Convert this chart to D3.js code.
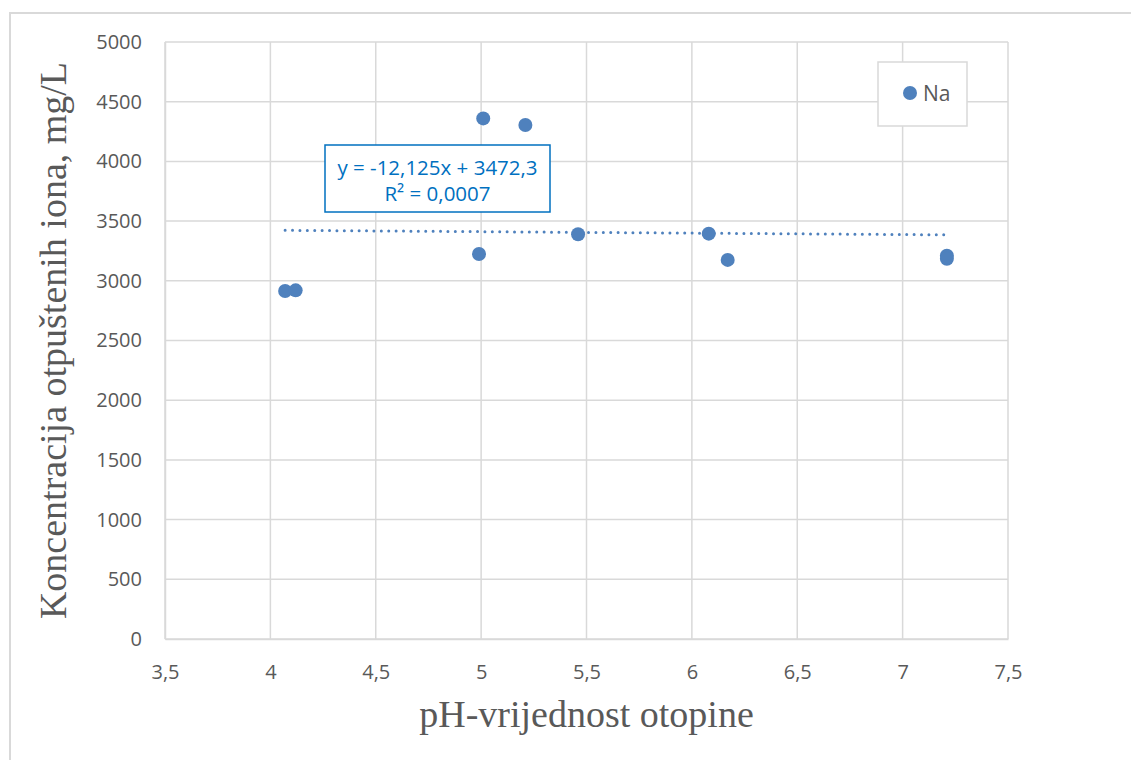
<!DOCTYPE html>
<html>
<head>
<meta charset="utf-8">
<script src="https://cdn.jsdelivr.net/npm/d3@7"></script>
<style>
    body { margin: 0; background: #fff; }
    text { fill: #595959; }
</style>
</head>
<body>
<div class="viz"></div>
<script>
// pH values and Na concentration
const ph = [4.07, 4.12, 5.01, 5.21, 4.99, 5.46, 6.08, 6.17, 7.21, 7.21];
const na = [2915, 2920, 4360, 4305, 3225, 3390, 3395, 3175, 3210, 3185];
const seriesName = "Na";
const trendSlope = -12.125,
    trendIntercept = 3472.3;
const trendLabel = ["y = -12,125x + 3472,3", "R² = 0,0007"];
const xTicks = [3.5, 4, 4.5, 5, 5.5, 6, 6.5, 7, 7.5];
const yTicks = [0, 500, 1000, 1500, 2000, 2500, 3000, 3500, 4000, 4500, 5000];

const W = 1131,
    H = 760;
var margin = { top: 42, right: 123, bottom: 121, left: 165 },
    width = W - margin.left - margin.right,
    height = H - margin.top - margin.bottom;

const blue = "#4f81bd";
const sans = "'Open Sans', 'Noto Sans', sans-serif";
const fmt = (d) => String(d).replace(".", ",");

var svg = d3
    .select(".viz")
    .append("svg")
    .attr("width", W)
    .attr("height", H);

// outer chart border
svg.append("rect")
    .attr("x", 10)
    .attr("y", 13)
    .attr("width", W + 20)
    .attr("height", H + 20)
    .attr("fill", "#fff")
    .attr("stroke", "#d9d9d9")
    .attr("stroke-width", 2);

var x = d3.scaleLinear().domain([3.5, 7.5]).range([0, width]);
var y = d3.scaleLinear().domain([0, 5000]).range([height, 0]);

var g = svg
    .append("g")
    .attr("transform", `translate(${margin.left},${margin.top})`);

// gridlines
g.append("g")
    .selectAll("line")
    .data(xTicks)
    .enter()
    .append("line")
    .attr("x1", (d) => x(d))
    .attr("x2", (d) => x(d))
    .attr("y1", 0)
    .attr("y2", height)
    .attr("stroke", "#d9d9d9")
    .attr("stroke-width", 1.5);

g.append("g")
    .selectAll("line")
    .data(yTicks)
    .enter()
    .append("line")
    .attr("x1", 0)
    .attr("x2", width)
    .attr("y1", (d) => y(d))
    .attr("y2", (d) => y(d))
    .attr("stroke", "#d9d9d9")
    .attr("stroke-width", 1.5);

// axes
var xAxis = g
    .append("g")
    .attr("transform", `translate(0,${height})`)
    .call(d3.axisBottom(x).tickValues(xTicks).tickSize(0).tickPadding(26).tickFormat(fmt));
var yAxis = g
    .append("g")
    .call(d3.axisLeft(y).tickValues(yTicks).tickSize(0).tickPadding(23).tickFormat(fmt));

[xAxis, yAxis].forEach((a) => {
    a.select(".domain").attr("stroke", "#d9d9d9").attr("stroke-width", 1.5);
    a.selectAll("text")
        .attr("fill", "#595959")
        .style("font-family", sans)
        .style("font-size", "20px");
});

// trendline
var xs = d3.extent(ph);
g.append("line")
    .attr("x1", x(xs[0]))
    .attr("x2", x(xs[1]))
    .attr("y1", y(trendSlope * xs[0] + trendIntercept))
    .attr("y2", y(trendSlope * xs[1] + trendIntercept))
    .attr("stroke", blue)
    .attr("stroke-width", 3)
    .attr("stroke-linecap", "round")
    .attr("stroke-dasharray", "0 7.4");

// points
g.append("g")
    .selectAll("circle")
    .data(ph.map((p, i) => [p, na[i]]))
    .enter()
    .append("circle")
    .attr("cx", (d) => x(d[0]))
    .attr("cy", (d) => y(d[1]))
    .attr("r", 7)
    .attr("fill", blue);

// trendline label
var lab = svg.append("g").attr("transform", "translate(325,145)");
lab.append("rect")
    .attr("width", 225)
    .attr("height", 67)
    .attr("fill", "#fff")
    .attr("stroke", "#0070c0")
    .attr("stroke-width", 1.5);
lab.selectAll("text")
    .data(trendLabel)
    .enter()
    .append("text")
    .attr("x", 112.5)
    .attr("y", (d, i) => 30 + i * 26)
    .attr("text-anchor", "middle")
    .style("fill", "#0070c0")
    .style("font-family", sans)
    .style("font-size", "20.5px")
    .text((d) => d);

// legend
var leg = svg.append("g").attr("transform", "translate(878,62)");
leg.append("rect")
    .attr("width", 89)
    .attr("height", 64)
    .attr("fill", "#fff")
    .attr("stroke", "#d9d9d9")
    .attr("stroke-width", 1.5);
leg.append("circle").attr("cx", 32).attr("cy", 31).attr("r", 7).attr("fill", blue);
leg.append("text")
    .attr("x", 45)
    .attr("y", 39)
    .style("font-family", sans)
    .style("font-size", "21px")
    .text(seriesName);

// axis titles
svg.append("text")
    .attr("x", margin.left + width / 2)
    .attr("y", 727)
    .attr("text-anchor", "middle")
    .style("font-family", "'Liberation Serif', serif")
    .style("font-size", "38px")
    .text("pH-vrijednost otopine");

svg.append("text")
    .attr("transform", `translate(66,${margin.top + height / 2}) rotate(-90)`)
    .attr("text-anchor", "middle")
    .style("font-family", "'Liberation Serif', serif")
    .style("font-size", "38px")
    .text("Koncentracija otpuštenih iona, mg/L");
</script>
</body>
</html>
